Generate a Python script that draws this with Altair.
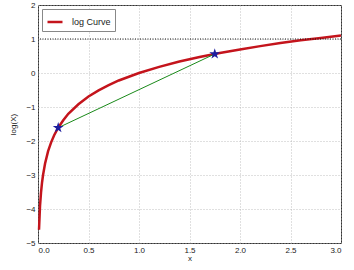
import altair as alt
import pandas as pd

# values
curve_x = [0.01, 0.02, 0.03, 0.04, 0.05, 0.07, 0.1, 0.13, 0.16, 0.2, 0.25, 0.3, 0.4, 0.5, 0.6, 0.7,
           0.8, 0.9, 1.0, 1.2, 1.4, 1.6, 1.8, 2.0, 2.2, 2.4, 2.6, 2.8, 3.0]
curve_y = [-4.61, -3.91, -3.51, -3.22, -3.00, -2.66, -2.30, -2.04, -1.83, -1.61, -1.39, -1.20, -0.92,
           -0.69, -0.51, -0.36, -0.22, -0.11, 0.00, 0.18, 0.34, 0.47, 0.59, 0.69, 0.79, 0.88,
           0.96, 1.03, 1.10]
pts_x = [0.2, 1.75]
pts_y = [-1.61, 0.56]
ref_y = [1.0]
series_name = "log Curve"
x_ticks = [0.0, 0.5, 1.0, 1.5, 2.0, 2.5, 3.0]
y_ticks = [-5, -4, -3, -2, -1, 0, 1, 2]

curve = pd.DataFrame({"x": curve_x, "y": curve_y, "s": [series_name] * len(curve_x)})
pts = pd.DataFrame({"x": pts_x, "y": pts_y})
ref = pd.DataFrame({"y": ref_y})

xs = alt.Scale(domain=[0, 3], nice=False, zero=False)
ys = alt.Scale(domain=[-5, 2], nice=False, zero=False)

grid_common = dict(grid=True, gridDash=[1, 2], gridColor="#b0b0b0", gridWidth=0.8,
                   domain=False, ticks=False, labelFontSize=8, labelColor="#222",
                   titleFontSize=8, titleFontWeight="normal", titleColor="#222")
xaxis = alt.Axis(values=x_ticks, format=".1f", title="x", labelPadding=3, titlePadding=0,
                 orient="bottom", **grid_common)
yaxis = alt.Axis(values=y_ticks, format="d", title="log(X)", labelPadding=3, titlePadding=8,
                 orient="left", **grid_common)

X = alt.X("x:Q", scale=xs, axis=xaxis)
Y = alt.Y("y:Q", scale=ys, axis=yaxis)

curve_line = alt.Chart(curve).mark_line(strokeWidth=2.5).encode(
    x=X, y=Y,
    color=alt.Color("s:N", scale=alt.Scale(domain=[series_name], range=["#c4141c"]),
                    legend=alt.Legend(orient="none", legendX=4, legendY=4, title=None,
                                      symbolType="stroke", symbolStrokeWidth=2.5,
                                      symbolSize=225, strokeColor="#888", fillColor="white",
                                      padding=4, labelFontSize=9, labelColor="#222",
                                      labelOffset=8)),
)

STAR = ("M0,-1L0.2245,-0.309L0.951,-0.309L0.363,0.118L0.588,0.809L0,0.382"
        "L-0.588,0.809L-0.363,0.118L-0.951,-0.309L-0.2245,-0.309Z")

ref_line = alt.Chart(ref).mark_rule(color="#111", strokeDash=[1, 1.5], strokeWidth=1).encode(y=Y)
chord = alt.Chart(pts).mark_line(color="#1a8a1a", strokeWidth=1).encode(x=X, y=Y)
stars = alt.Chart(pts).mark_point(shape=STAR, filled=True, size=130, color="#1e1e9e",
                                  opacity=1).encode(x=X, y=Y)

chart = alt.layer(curve_line, ref_line, chord, stars).properties(
    width=303, height=238,
    autosize=alt.AutoSizeParams(type="none"),
    padding={"left": 38, "top": 5, "right": 13, "bottom": 27},
).configure_view(stroke="#333", strokeWidth=1)

chart.save("out.html", embed_options={"renderer": "svg", "actions": False})
